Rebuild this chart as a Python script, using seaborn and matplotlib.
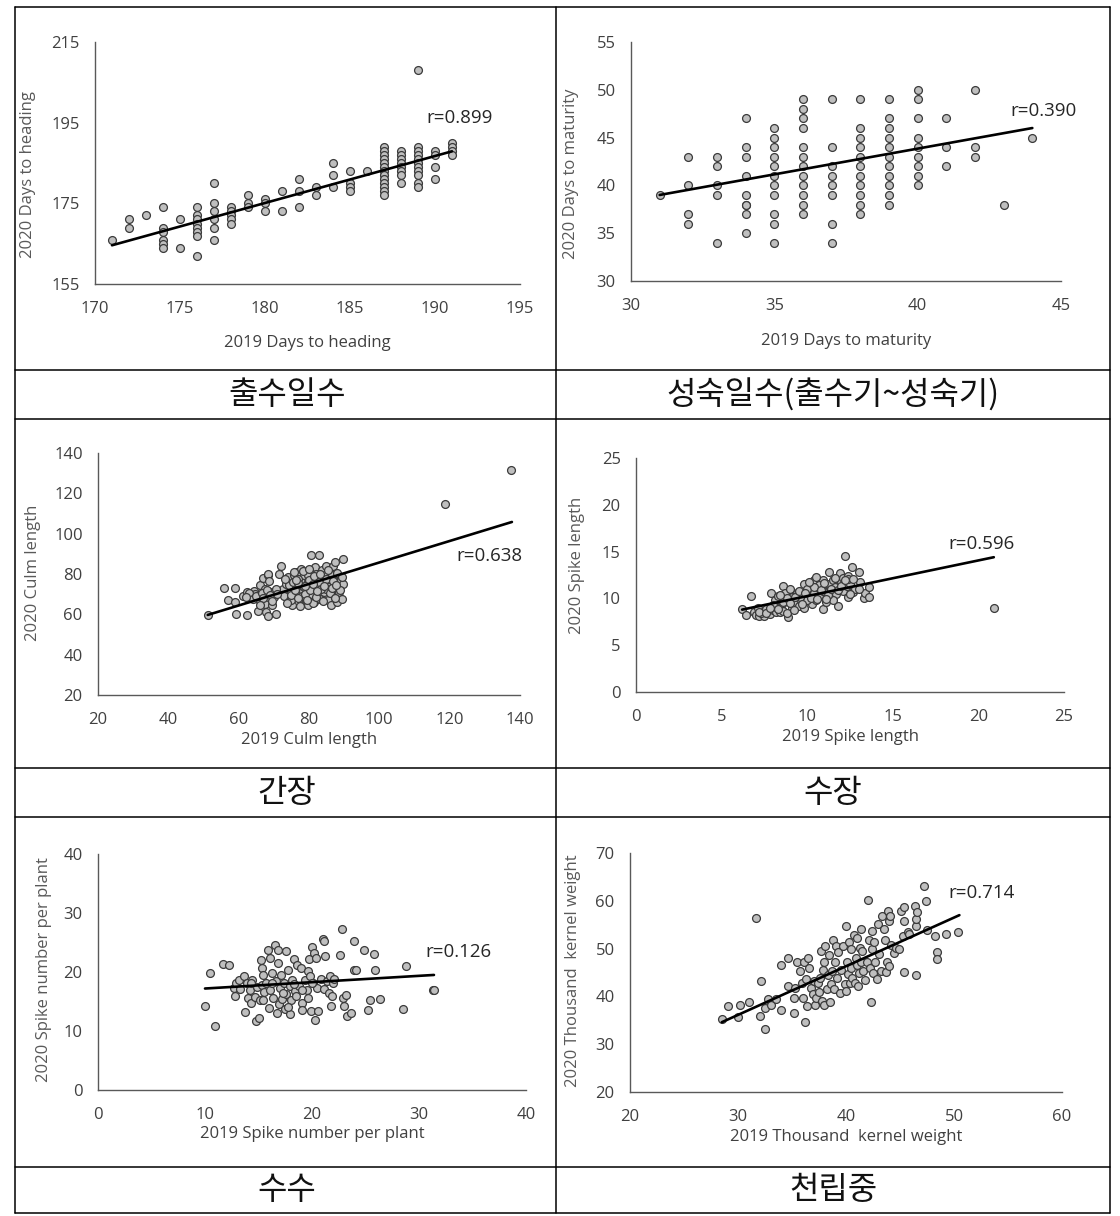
import matplotlib
matplotlib.use("Agg")
import matplotlib.pyplot as plt
from matplotlib.lines import Line2D
import seaborn as sns
import pandas as pd

sns.set_theme(style="white")
plt.rcParams["font.family"] = ["Open Sans", "Noto Sans CJK KR", "DejaVu Sans"]

# ---------------- data ----------------
# Panel 1: days to heading
heading_2019 = ([171] + [172]*2 + [173] + [174]*6 + [175]*2 + [176]*8 + [177]*6 + [178]*5 +
                [179]*3 + [180]*3 + [181]*2 + [182]*3 + [183]*2 + [184]*3 + [185]*4 + [186] +
                [187]*13 + [188]*8 + [189]*11 + [190]*4 + [191]*4)
heading_2020 = [166,
                171, 169,
                172,
                174, 169, 168, 166, 165, 164,
                171, 164,
                174, 172, 171, 170, 169, 168, 167, 162,
                180, 175, 173, 171, 169, 166,
                174, 173, 172, 171, 170,
                177, 175, 174,
                176, 175, 173,
                178, 173,
                181, 178, 174,
                179, 177,
                185, 182, 179,
                183, 180, 179, 178,
                183,
                189, 188, 187, 186, 185, 184, 183, 182, 181, 180, 179, 178, 177,
                188, 187, 186, 185, 184, 183, 182, 180,
                208, 189, 188, 187, 186, 185, 184, 183, 182, 180, 179,
                188, 187, 184, 181,
                190, 189, 188, 187]
heading_trend_x = [171, 191]
heading_trend_y = [164.6, 187.9]

# Panel 2: days to maturity
maturity_2019 = ([31] + [32]*4 + [33]*5 + [34]*9 + [35]*11 + [36]*12 + [37]*8 + [38]*11 +
                 [39]*11 + [40]*9 + [41]*3 + [42]*3 + [43] + [44])
maturity_2020 = [39,
                 43, 40, 37, 36,
                 43, 42, 40, 39, 34,
                 47, 44, 43, 41, 39, 38, 38, 37, 35,
                 46, 45, 44, 43, 42, 41, 40, 39, 37, 36, 34,
                 49, 48, 47, 46, 44, 43, 42, 41, 40, 39, 38, 37,
                 49, 44, 42, 41, 40, 39, 36, 34,
                 49, 46, 45, 44, 43, 42, 41, 40, 39, 38, 37,
                 49, 47, 46, 45, 44, 43, 42, 41, 40, 39, 38,
                 50, 49, 47, 45, 44, 43, 42, 41, 40,
                 47, 44, 42,
                 50, 44, 43,
                 38,
                 45]
maturity_trend_x = [31, 44]
maturity_trend_y = [39.0, 46.0]

# Panel 3: culm length
culm_2019 = [51.2, 55.9, 59.0, 56.9, 59.0, 59.3, 62.3, 61.3, 62.3, 63.4, 64.4, 65.6, 66.2, 66.9,
             68.2, 68.4, 67.4, 67.4, 67.9, 68.2, 68.6, 69.4, 69.4, 70.5, 70.0, 65.4, 64.6, 65.9,
             71.5, 72.0, 72.5, 73.0, 73.5, 74.0, 74.5, 75.0, 75.3, 75.7, 76.3, 76.5, 77.1, 77.4,
             77.6, 77.8, 78.4, 78.6, 79.1, 79.4, 79.6, 79.8, 80.1, 80.6, 80.8, 81.1, 81.4, 81.6,
             81.8, 82.1, 82.6, 82.9, 83.1, 83.5, 83.7, 84.2, 84.5, 84.7, 85.2, 85.5, 85.7, 86.2,
             86.2, 86.7, 86.9, 87.2, 87.5, 87.7, 87.9, 88.2, 88.5, 88.7, 89.2, 89.5, 89.7, 89.7,
             74.3, 75.5, 78.1, 80.4, 82.4, 83.9, 84.9, 86.5, 80.6, 78.6, 76.8, 75.0,
             73.2, 74.8, 76.0, 76.9, 77.5, 78.2, 79.0, 79.9, 80.3, 81.0, 81.5, 82.0, 82.8, 83.3,
             84.0, 84.8, 85.4, 86.0, 86.8, 87.3, 88.0, 88.8, 89.3, 73.8, 75.6, 77.0, 78.8, 80.0,
             81.2, 83.0, 84.4, 86.5, 87.8, 79.5, 76.2, 82.2,
             63.0, 64.0, 65.0, 66.5, 67.0, 68.0, 69.0, 69.5, 66.0, 62.0, 70.5, 71.0,
             118.7, 137.5]
culm_2020 = [59.7, 73.0, 73.3, 67.2, 66.0, 60.2, 59.7, 69.3, 71.0, 69.3, 71.8, 61.9, 74.3, 78.0,
             79.3, 80.1, 72.6, 65.2, 61.1, 59.4, 76.3, 71.0, 64.4, 60.2, 68.5, 67.7, 70.2, 69.3,
             80.1, 84.2, 72.6, 69.3, 75.1, 78.4, 66.9, 71.0, 64.4, 79.3, 74.3, 80.9, 71.0, 67.7,
             82.6, 76.0, 71.8, 79.3, 66.9, 75.1, 64.4, 79.3, 69.3, 89.5, 73.5, 77.6, 66.0, 83.4,
             71.0, 80.1, 74.3, 89.5, 67.7, 77.6, 81.8, 71.0, 79.3, 84.2, 74.3, 66.9, 77.6, 80.9,
             64.7, 84.2, 73.5, 70.2, 85.9, 78.4, 66.0, 76.0, 71.0, 74.3, 76.8, 67.7, 87.5, 75.1,
             74.3, 76.0, 69.3, 67.7, 76.8, 76.0, 72.6, 79.3, 70.2, 73.5, 77.3, 66.9,
             77.5, 69.5, 72.0, 75.5, 64.0, 81.5, 70.0, 76.8, 72.2, 65.5, 79.0, 68.5, 76.0, 72.5,
             66.5, 77.5, 82.0, 70.5, 76.5, 68.0, 80.5, 72.0, 78.5, 65.5, 80.8, 68.0, 74.0, 82.5,
             74.8, 80.0, 74.0, 73.0, 74.5, 67.0, 76.8, 71.5,
             70.5, 67.5, 69.0, 70.5, 68.0, 72.0, 69.5, 66.5, 64.5, 68.5, 72.5, 70.0,
             114.7, 131.4]
culm_trend_x = [51.2, 137.7]
culm_trend_y = [59.7, 105.8]

# Panel 4: spike length
spike_len_2019 = [6.2, 6.4, 6.7, 6.9, 7.0, 7.1, 7.2, 7.4, 7.5, 7.7, 7.8, 7.9, 8.0, 8.1, 8.2, 8.3,
                  8.4, 8.5, 8.6, 8.6, 8.7, 8.9, 8.9, 9.0, 9.1, 9.2, 9.3, 9.4, 9.5, 9.6, 9.7, 9.8,
                  9.8, 10.0, 10.0, 10.1, 10.2, 10.3, 10.4, 10.4, 10.5, 10.6, 10.7, 10.8, 10.9,
                  10.9, 11.0, 11.1, 11.3, 11.4, 11.5, 11.6, 11.7, 11.8, 11.9, 12.0, 12.1, 12.1,
                  12.2, 12.3, 12.4, 12.4, 12.5, 12.6, 12.7, 12.8, 13.0, 13.1, 13.3, 13.4, 13.6,
                  13.6, 8.2, 9.1, 10.0, 11.3, 11.5, 10.5, 10.9, 10.7, 12.4, 7.3, 7.6, 8.8, 9.6,
                  7.2, 7.6, 8.0, 8.3, 8.6, 8.8, 9.0, 9.3, 9.5, 9.7, 9.9, 10.2, 10.4, 10.6, 10.8,
                  11.0, 11.2, 11.4, 11.6, 11.8, 12.0, 12.2, 12.5, 12.7, 13.0, 9.2, 10.1, 11.1,
                  8.4, 7.8,
                  20.9]
spike_len_2020 = [8.9, 8.2, 10.3, 8.5, 8.2, 9.0, 8.1, 8.6, 8.1, 9.0, 8.3, 10.6, 8.8, 9.8, 8.5,
                  10.3, 8.5, 9.4, 11.3, 8.7, 10.6, 8.0, 9.8, 11.0, 9.0, 10.3, 9.6, 10.6, 9.2, 9.9,
                  10.5, 11.5, 9.0, 9.8, 11.0, 10.3, 11.6, 9.4, 12.0, 10.6, 9.8, 11.2, 10.3, 11.7,
                  8.9, 12.0, 10.8, 9.6, 11.5, 10.3, 12.0, 11.2, 10.5, 9.2, 12.7, 11.7, 10.8, 12.2,
                  14.5, 11.3, 12.4, 10.1, 11.5, 13.4, 10.7, 11.0, 12.8, 11.7, 10.0, 10.6, 11.2,
                  10.1, 9.1, 10.1, 9.8, 12.8, 9.8, 12.3, 10.8, 11.4, 12.1, 8.4, 8.9, 8.4, 10.1,
                  8.6, 8.4, 9.3, 8.9, 9.6, 10.0, 9.5, 10.2, 10.8, 9.4, 10.6, 10.0, 11.2, 9.9, 10.9,
                  11.6, 10.4, 11.0, 12.2, 10.9, 11.3, 12.0, 10.5, 12.1, 11.0, 8.8, 11.7, 9.9,
                  10.4, 9.0,
                  9.0]
spike_len_trend_x = [6.2, 20.9]
spike_len_trend_y = [8.8, 14.4]

# Panel 5: spike number per plant
spike_num_2019 = [10.0, 10.5, 10.9, 11.7, 12.2, 12.7, 12.8, 12.9, 13.2, 13.3, 13.6, 13.7, 13.9,
                  14.0, 14.2, 14.3, 14.4, 14.7, 14.8, 14.9, 15.0, 15.1, 15.2, 15.3, 15.3, 15.4,
                  15.5, 15.7, 15.9, 16.0, 16.1, 16.1, 16.3, 16.4, 16.5, 16.6, 16.7, 16.8, 16.8,
                  16.9, 17.0, 17.1, 17.2, 17.4, 17.5, 17.6, 17.6, 17.8, 17.9, 17.9, 18.0, 18.1,
                  18.3, 18.4, 18.5, 18.6, 18.8, 19.0, 19.1, 19.1, 19.3, 19.5, 19.6, 19.6, 19.7,
                  19.8, 19.9, 20.0, 20.1, 20.2, 20.3, 20.4, 20.5, 20.6, 20.8, 21.0, 21.1, 21.1,
                  21.2, 21.4, 21.6, 21.7, 21.8, 21.9, 22.0, 22.1, 22.6, 22.8, 22.9, 23.0, 23.2,
                  23.3, 23.6, 23.9, 23.9, 24.1, 24.9, 25.2, 25.4, 25.8, 25.9, 26.4, 28.5, 28.8,
                  31.3, 31.4, 16.3, 17.3, 18.3, 19.1, 20.0, 14.3, 15.4, 17.8]
spike_num_2020 = [14.3, 19.9, 10.8, 21.4, 21.2, 17.3, 15.9, 18.1, 18.6, 17.1, 19.3, 13.2, 18.1,
                  15.6, 17.0, 14.8, 18.7, 15.7, 11.7, 17.5, 12.2, 15.2, 22.0, 17.8, 20.7, 19.5,
                  16.6, 18.1, 23.8, 13.9, 22.4, 17.0, 19.8, 15.6, 24.6, 18.4, 13.1, 23.8, 21.5,
                  14.5, 17.3, 19.5, 15.4, 18.1, 13.7, 23.6, 16.2, 20.4, 12.8, 17.6, 15.3, 18.7,
                  22.2, 16.8, 15.9, 21.2, 17.7, 20.6, 14.8, 13.5, 18.7, 17.0, 20.1, 15.6, 22.2,
                  19.4, 13.4, 24.3, 18.2, 23.2, 11.9, 22.4, 17.3, 13.4, 18.8, 25.6, 25.3, 17.1,
                  22.7, 18.4, 16.5, 19.3, 14.2, 15.9, 18.1, 18.8, 22.9, 27.3, 15.6, 14.3, 16.1,
                  12.6, 13.0, 25.2, 20.3, 20.3, 23.8, 13.6, 15.2, 23.1, 20.3, 15.4, 13.8, 21.0,
                  17.0, 16.9, 18.1, 16.5, 17.9, 17.0, 18.1, 18.1, 15.3, 14.1]
spike_num_trend_x = [10.0, 31.4]
spike_num_trend_y = [17.2, 19.5]

# Panel 6: thousand kernel weight
tkw_2019 = [28.5, 29.1, 30.0, 30.2, 31.0, 31.7, 32.0, 32.1, 32.5, 32.5, 32.8, 33.1, 33.5, 34.0,
            34.0, 34.6, 34.6, 35.2, 35.2, 35.3, 35.5, 35.7, 35.9, 36.0, 36.1, 36.2, 36.3, 36.4,
            36.5, 36.6, 36.8, 36.9, 37.0, 37.1, 37.2, 37.4, 37.5, 37.6, 37.7, 37.8, 37.9, 38.0,
            38.0, 38.1, 38.2, 38.3, 38.4, 38.5, 38.6, 38.7, 38.8, 38.9, 39.0, 39.1, 39.2, 39.3,
            39.4, 39.5, 39.7, 39.9, 40.0, 40.0, 40.1, 40.2, 40.3, 40.4, 40.5, 40.5, 40.6, 40.7,
            40.8, 40.9, 41.0, 41.0, 41.1, 41.2, 41.3, 41.4, 41.4, 41.5, 41.6, 41.8, 41.9, 42.0,
            42.1, 42.2, 42.3, 42.4, 42.4, 42.5, 42.6, 42.7, 42.9, 43.0, 43.1, 43.2, 43.3, 43.5,
            43.6, 43.7, 43.8, 43.9, 44.0, 44.0, 44.1, 44.2, 44.4, 44.6, 44.9, 45.1, 45.3, 45.4,
            45.4, 45.4, 45.7, 45.8, 46.4, 46.5, 46.5, 46.5, 46.6, 47.2, 47.4, 47.5, 48.2, 48.4,
            48.4, 49.3, 50.4]
tkw_2020 = [35.3, 37.9, 35.7, 38.1, 38.8, 56.3, 35.9, 43.3, 33.1, 37.5, 39.5, 38.3, 39.4, 37.1,
            46.6, 48.0, 42.1, 36.6, 39.7, 41.8, 47.1, 45.3, 42.9, 39.7, 47.1, 34.6, 43.6, 38.0,
            48.1, 46.0, 41.8, 40.4, 43.2, 38.3, 39.7, 42.9, 40.9, 43.9, 49.5, 39.0, 45.6, 38.1,
            47.1, 50.6, 41.5, 44.4, 48.6, 38.8, 42.5, 45.3, 51.8, 41.5, 47.1, 50.6, 43.9, 49.2,
            40.8, 45.6, 50.6, 42.5, 41.1, 54.7, 47.1, 44.6, 51.4, 42.9, 49.9, 46.0, 43.9, 52.9,
            42.9, 48.1, 46.5, 52.2, 42.1, 44.9, 50.2, 54.2, 47.1, 49.5, 45.3, 43.5, 47.1, 60.2,
            51.9, 46.0, 38.8, 53.6, 49.9, 44.9, 51.4, 47.1, 43.7, 55.2, 48.8, 45.3, 56.9, 54.0,
            51.8, 45.1, 47.3, 57.9, 55.7, 46.4, 56.9, 50.8, 49.1, 50.2, 49.9, 57.8, 52.6, 45.1,
            58.8, 55.8, 53.4, 53.1, 59.0, 44.4, 54.7, 56.1, 57.6, 63.2, 59.9, 53.8, 52.7, 49.2,
            47.9, 53.1, 53.4]
tkw_trend_x = [28.5, 50.5]
tkw_trend_y = [34.6, 57.0]

# labels
x_labels = ["2019 Days to heading", "2019 Days to maturity", "2019 Culm length",
            "2019 Spike length", "2019 Spike number per plant", "2019 Thousand  kernel weight"]
y_labels = ["2020 Days to heading", "2020 Days to maturity", "2020 Culm length",
            "2020 Spike length", "2020 Spike number per plant", "2020 Thousand  kernel weight"]
r_labels = ["r=0.899", "r=0.390", "r=0.638", "r=0.596", "r=0.126", "r=0.714"]
captions = ["출수일수", "성숙일수(출수기~성숙기)", "간장", "수장", "수수", "천립중"]
x_ticks = [[170, 175, 180, 185, 190, 195], [30, 35, 40, 45], [20, 40, 60, 80, 100, 120, 140],
           [0, 5, 10, 15, 20, 25], [0, 10, 20, 30, 40], [20, 30, 40, 50, 60]]
y_ticks = [[155, 175, 195, 215], [30, 35, 40, 45, 50, 55], [20, 40, 60, 80, 100, 120, 140],
           [0, 5, 10, 15, 20, 25], [0, 10, 20, 30, 40], [20, 30, 40, 50, 60, 70]]

panels = [
    (heading_2019, heading_2020, heading_trend_x, heading_trend_y),
    (maturity_2019, maturity_2020, maturity_trend_x, maturity_trend_y),
    (culm_2019, culm_2020, culm_trend_x, culm_trend_y),
    (spike_len_2019, spike_len_2020, spike_len_trend_x, spike_len_trend_y),
    (spike_num_2019, spike_num_2020, spike_num_trend_x, spike_num_trend_y),
    (tkw_2019, tkw_2020, tkw_trend_x, tkw_trend_y),
]

# ---------------- layout (pixels in 1120x1216 canvas) ----------------
W, H = 1120, 1216
axes_px = [(95, 520, 42, 284), (631, 1061, 42, 281), (98, 520, 453, 695),
           (636, 1064, 458, 692), (98, 526, 854, 1090), (630, 1062, 853, 1092)]
r_pos_px = [(460, 118), (1043, 111), (489, 556), (982, 544), (458, 952), (982, 893)]
xlabel_y_px = [343, 341, 740, 737, 1134, 1137]
ylabel_px = [(28, 174), (571, 174), (33, 573), (577, 565), (44, 970), (573, 971)]
caption_px = [(287, 395), (833, 395), (287, 793), (833, 793), (287, 1190), (833, 1190)]

AX_COLOR = "#595959"
TXT_COLOR = "#404040"

fig = plt.figure(figsize=(W / 100, H / 100), dpi=100)
fig.patch.set_facecolor("white")

for i, (xs, ys, tx, ty) in enumerate(panels):
    l, r, t, b = axes_px[i]
    ax = fig.add_axes([l / W, 1 - b / H, (r - l) / W, (b - t) / H])
    df = pd.DataFrame({"x": xs, "y": ys})
    sns.scatterplot(data=df, x="x", y="y", ax=ax, s=32, color="#bfbfbf",
                    edgecolor="#3a3a3a", linewidth=0.9, zorder=3, clip_on=False)
    tdf = pd.DataFrame({"x": tx, "y": ty})
    sns.lineplot(data=tdf, x="x", y="y", ax=ax, color="black", linewidth=1.9,
                 estimator=None, sort=False, zorder=4)
    ax.set_xlim(x_ticks[i][0], x_ticks[i][-1])
    ax.set_ylim(y_ticks[i][0], y_ticks[i][-1])
    ax.set_xticks(x_ticks[i])
    ax.set_yticks(y_ticks[i])
    ax.set_facecolor("white")
    for side in ["top", "right"]:
        ax.spines[side].set_visible(False)
    for side in ["left", "bottom"]:
        ax.spines[side].set_color(AX_COLOR)
        ax.spines[side].set_linewidth(1.0)
    ax.tick_params(axis="both", direction="in", length=5, width=1, color=AX_COLOR,
                   labelsize=12, labelcolor=TXT_COLOR)
    ax.tick_params(axis="x", pad=12)
    ax.tick_params(axis="y", pad=11)
    ax.set_xlabel(x_labels[i], fontsize=12, color=TXT_COLOR)
    ax.set_ylabel(y_labels[i], fontsize=12, color=AX_COLOR)
    ax.xaxis.label.set_va("center")
    ax.yaxis.label.set_va("center")
    ax.xaxis.set_label_coords(0.5, -(xlabel_y_px[i] - b) / (b - t))
    ylx, yly = ylabel_px[i]
    ax.yaxis.set_label_coords((ylx - l) / (r - l), (b - yly) / (b - t))
    rx, ry = r_pos_px[i]
    ax.text((rx - l) / (r - l), (b - ry) / (b - t), r_labels[i], transform=ax.transAxes,
            ha="center", va="center", fontsize=13.5, color="#262626")
    ax.grid(False)

# captions
for i, (cx, cy) in enumerate(caption_px):
    fig.text(cx / W, 1 - cy / H, captions[i], ha="center", va="center", fontsize=23,
             color="#111111", fontweight="light", family=["Noto Sans CJK KR", "DejaVu Sans"])

# table lines
def hline(y, x0=15, x1=1110):
    fig.add_artist(Line2D([x0 / W, x1 / W], [1 - y / H, 1 - y / H], color="black", lw=1.1))

def vline(x, y0=7, y1=1213):
    fig.add_artist(Line2D([x / W, x / W], [1 - y0 / H, 1 - y1 / H], color="black", lw=1.1))

for yy in [7, 370, 419, 768, 817, 1167, 1213]:
    hline(yy)
for xx in [15, 556, 1110]:
    vline(xx)

fig.savefig("out.png", dpi=100, facecolor="white")
